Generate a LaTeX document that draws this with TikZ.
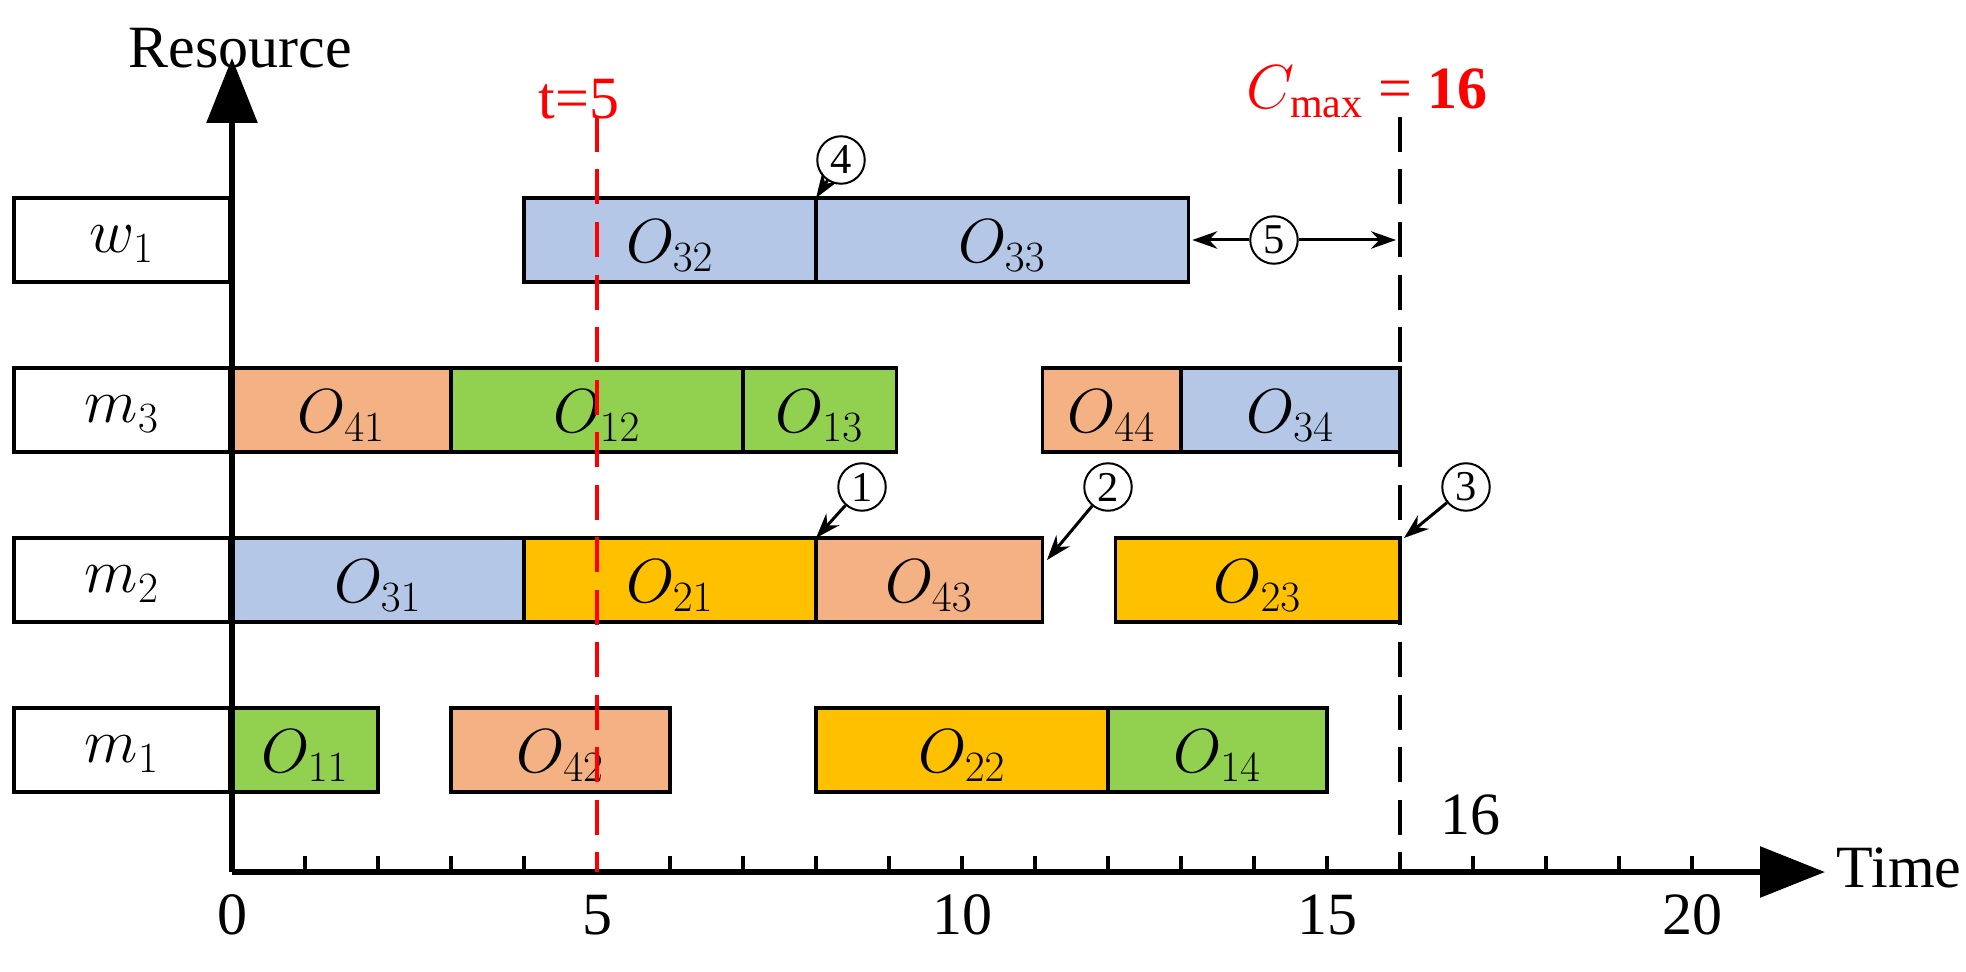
\documentclass[tikz,border=0pt]{standalone}
\usepackage{fontspec}
\setmainfont{Liberation Serif}
\usetikzlibrary{arrows.meta}
\definecolor{jobA}{RGB}{146,208,80}
\definecolor{jobB}{RGB}{255,192,0}
\definecolor{jobC}{RGB}{180,199,231}
\definecolor{jobD}{RGB}{244,177,131}
\tikzset{bar/.style={draw,line width=1.4pt},
    lbl/.style={font=\fontsize{24}{28}\selectfont},
    circnum/.style={draw,circle,line width=0.8pt,inner sep=0pt,minimum size=19pt,font=\fontsize{17}{18}\selectfont},
    pnt/.style={-{Stealth[length=10pt,width=7pt]},line width=1.2pt}}
% time -> pixel
\newcommand{\T}[1]{232+73*(#1)}
% \opbar{name}{start}{end}{row centre}{colour}{label}
\newcommand{\opbar}[6]{\draw[bar,fill=#5] ({\T{#2}},#4-42) rectangle ({\T{#3}},#4+42);
  \node[lbl] (#1) at ({(\T{#2}+\T{#3})/2},#4+6) {$#6$};}
\begin{document}
\begin{tikzpicture}[x=0.4pt,y=-0.4pt]
\useasboundingbox (0,0) rectangle (1966,972);

%Row labels
\foreach \n/\yy in {w_1/240,m_3/410,m_2/580,m_1/750}{
  \draw[bar,fill=white] (14,\yy-42) rectangle (230,\yy+42);
  \node[lbl] at (122,\yy+4) {$\n$};
}

%Operations
\opbar{o32}{4}{8}{240}{jobC}{O_{32}}
\opbar{o33}{8}{13.1}{240}{jobC}{O_{33}}
\opbar{o41}{0}{3}{410}{jobD}{O_{41}}
\opbar{o12}{3}{7}{410}{jobA}{O_{12}}
\opbar{o13}{7}{9.1}{410}{jobA}{O_{13}}
\opbar{o44}{11.1}{13}{410}{jobD}{O_{44}}
\opbar{o34}{13}{16}{410}{jobC}{O_{34}}
\opbar{o31}{0}{4}{580}{jobC}{O_{31}}
\opbar{o21}{4}{8}{580}{jobB}{O_{21}}
\opbar{o43}{8}{11.1}{580}{jobD}{O_{43}}
\opbar{o23}{12.1}{16}{580}{jobB}{O_{23}}
\opbar{o11}{0}{2}{750}{jobA}{O_{11}}
\opbar{o42}{3}{6}{750}{jobD}{O_{42}}
\opbar{o22}{8}{12}{750}{jobB}{O_{22}}
\opbar{o14}{12}{15}{750}{jobA}{O_{14}}

%Axes
\draw[line width=2.4pt,-{Triangle[length=26pt,width=20pt]}] (232,872) -- (232,58);
\draw[line width=2.4pt,-{Triangle[length=26pt,width=20pt]}] (232,872) -- (1825,872);
\foreach \i in {1,...,20} \draw[line width=1.4pt] ({\T{\i}},872) -- ({\T{\i}},856);
\foreach \i in {0,5,10,15,20} \node[lbl] at ({\T{\i}},915) {\i};
\node[lbl,anchor=west] at (1828,868) {Time};
\node[lbl] at (240,48) {Resource};

%Red line t=5
\draw[red,dashed,line width=1.6pt,dash pattern=on 14pt off 7pt] ({\T{5}},117) -- ({\T{5}},872);
\node[lbl,red] at (579,99) {t=5};
%Makespan
\draw[dashed,line width=1.4pt,dash pattern=on 14pt off 7pt] ({\T{16}},117) -- ({\T{16}},872);
\node[lbl,red] at (1367,92) {$C_{\max}$ = \textbf{16}};
\node[lbl] at (1470,815) {16};

%Marks
\node[circnum] (c1) at (862,487) {1};
\node[circnum] (c2) at (1108,487) {2};
\node[circnum] (c3) at (1466,487) {3};
\node[circnum] (c4) at (841,160) {4};
\node[circnum] (c5) at (1274,240) {5};
\coordinate (p1) at ({\T{8}},538);
\coordinate (p2) at (1047,560);
\coordinate (p3) at ({\T{16}+4},538);
\coordinate (p4) at ({\T{8}},198);
\coordinate (p5a) at ({\T{13.1}+4},240);
\coordinate (p5b) at ({\T{16}-4},240);
\draw[pnt] (c1) -- (p1);
\draw[pnt] (c2) -- (p2);
\draw[pnt] (c3) -- (p3);
\draw[pnt] (c4) -- (p4);
\draw[pnt] (c5) -- (p5a);
\draw[pnt] (c5) -- (p5b);
\end{tikzpicture}
\end{document}
